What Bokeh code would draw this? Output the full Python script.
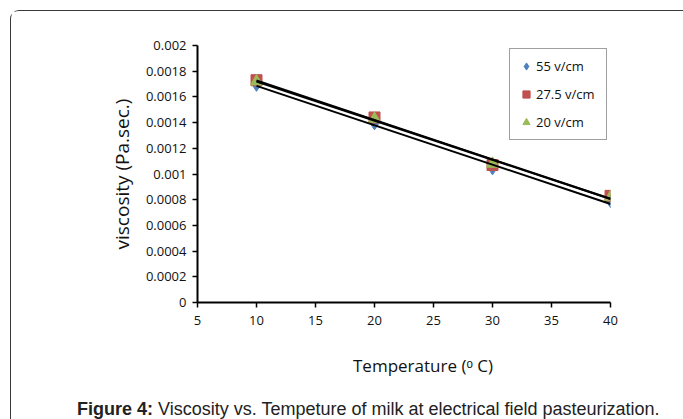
import numpy as np
from bokeh.plotting import figure
from bokeh.layouts import column
from bokeh.models import (FixedTicker, CustomJSTickFormatter, Legend, LegendItem,
                          Range1d, Div)
from bokeh.embed import file_html
from bokeh.resources import INLINE

# ---- data ----
temperature = [10, 20, 30, 40]
visc_55 = [0.00169, 0.00139, 0.00104, 0.000785]
visc_275 = [0.00173, 0.00144, 0.00107, 0.00083]
visc_20 = [0.00172, 0.00143, 0.00108, 0.00082]
series_names = ["55 v/cm", "27.5 v/cm", "20 v/cm"]
x_ticks = [5, 10, 15, 20, 25, 30, 35, 40]
y_ticks = [0, 0.0002, 0.0004, 0.0006, 0.0008, 0.001, 0.0012, 0.0014, 0.0016, 0.0018, 0.002]

x_title = "Temperature (\u1d52 C)"
y_title = "viscosity (Pa.sec.)"
caption_bold = "Figure 4:"
caption_text = "Viscosity vs. Tempeture of milk at electrical field pasteurization."

FONT = "Open Sans"

p = figure(width=672, height=326, output_backend="svg", toolbar_location=None,
           x_range=Range1d(5, 40), y_range=Range1d(0, 0.002),
           min_border_left=186, min_border_right=73, min_border_top=34,
           min_border_bottom=35)
p.outline_line_color = None
p.grid.visible = False
p.background_fill_color = "white"
p.border_fill_color = "white"

for ax in (p.xaxis[0], p.yaxis[0]):
    ax.axis_line_width = 2
    ax.axis_line_color = "black"
    ax.major_tick_line_color = "black"
    ax.major_tick_line_width = 1.5
    ax.major_tick_in = 0
    ax.major_tick_out = 5
    ax.minor_tick_line_color = None
    ax.major_label_text_font = FONT
    ax.major_label_text_font_size = "13px"
    ax.major_label_text_color = "#111111"

p.xaxis.ticker = FixedTicker(ticks=x_ticks)
p.yaxis.ticker = FixedTicker(ticks=y_ticks)
p.yaxis.formatter = CustomJSTickFormatter(code="return String(Number(tick.toPrecision(6)));")
p.xaxis.major_label_standoff = 8
p.yaxis.major_label_standoff = 6

p.yaxis.axis_label = y_title
p.yaxis.axis_label_text_font = FONT
p.yaxis.axis_label_text_font_size = "19px"
p.yaxis.axis_label_text_font_style = "normal"
p.yaxis.axis_label_text_color = "#111111"
p.yaxis.axis_label_standoff = 8

colors = ["#4F81BD", "#C0504D", "#9BBB59"]
markers = ["diamond", "square", "triangle"]
sizes = [12, 11, 12]
series = [visc_55, visc_275, visc_20]

items = []
for name, vals, c, m, s in zip(series_names, series, colors, markers, sizes):
    r = p.scatter(temperature, vals, marker=m, size=s, fill_color=c, line_color=c)
    items.append(LegendItem(label=name, renderers=[r]))

# linear trendlines for each series
for vals in series:
    k, b = np.polyfit(temperature, vals, 1)
    xs = [temperature[0], temperature[-1]]
    p.line(xs, [k * xs[0] + b, k * xs[1] + b], line_color="black", line_width=2)

legend = Legend(items=items, location="top_right", margin=3,
                border_line_color="#404040", border_line_width=1,
                background_fill_color="white", background_fill_alpha=1,
                label_text_font=FONT, label_text_font_size="13px",
                label_text_color="#111111",
                padding=7, spacing=8, glyph_width=18, glyph_height=20,
                label_height=20, label_width=63, label_standoff=1)
p.add_layout(legend)

# x-axis title and figure caption below the chart
below_html = (
    "<div style=\"padding-left:337px; padding-top:12px; font-family:'Open Sans', sans-serif; "
    "font-size:17px; line-height:24px; color:#111111; white-space:nowrap\">%s</div>"
    "<div style=\"padding-left:61px; padding-top:21px; font-family:'Liberation Sans', Arial, sans-serif; "
    "font-size:18px; line-height:20px; color:#222222; white-space:nowrap\"><b>%s</b> %s</div>"
) % (x_title, caption_bold, caption_text)
below = Div(text=below_html, width=600, height=82)

layout = column(p, below, spacing=0,
                styles={"border-left": "1px solid #3a3a3a", "border-top": "1px solid #3a3a3a",
                        "border-top-left-radius": "9px", "margin-left": "10px",
                        "margin-top": "10px"})

open("out.html", "w").write(file_html(layout, INLINE))
